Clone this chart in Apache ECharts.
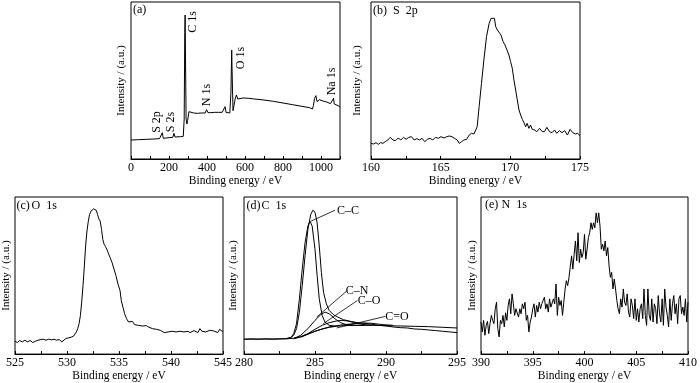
<!DOCTYPE html>
<html><head><meta charset="utf-8">
<script src="https://cdn.jsdelivr.net/npm/echarts@6/dist/echarts.min.js"></script>
<style>html,body{margin:0;padding:0;background:#fff}#c{width:700px;height:383px}</style>
</head><body><div id="c"></div>
<script>
const FONT = '"Liberation Serif","Times New Roman",serif';

// (a) survey spectrum
const aEnergy = [0,40,80,120,150,160,165,170,200,220,226,232,260,275,280,283,285,287,290,294,298,305,312,330,350,370,390,398,405,420,440,460,480,490,495,500,510,520,526,530,533,537,542,548,555,562,570,590,620,650,700,750,800,850,900,940,955,960,966,973,979,985,992,1000,1010,1020,1030,1040,1050,1060,1066,1070,1080,1090,1100];
const aIntensity = [57,58,59,60,61,62,79,62,64,65,77,66,67,68,120,380,432,300,120,105,115,142,140,138,137,138,138,148,139,139,140,140,140,141,157,140,140,138,200,327,240,145,160,180,192,180,184,183,182,180,177,173,168,163,158,154,150,160,182,190,172,168,178,176,174,176,171,169,166,165,182,165,161,160,156];

// (b) S 2p
const bEnergy = [160.00,160.19,160.36,160.52,160.69,160.86,161.02,161.21,161.38,161.57,161.76,161.95,162.14,162.33,162.52,162.71,162.90,163.10,163.29,163.48,163.67,163.86,164.05,164.24,164.43,164.62,164.83,165.02,165.24,165.43,165.62,165.81,166.00,166.19,166.33,166.50,166.67,166.86,167.05,167.21,167.38,167.52,167.62,167.76,167.93,168.10,168.29,168.48,168.62,168.76,168.86,168.95,169.07,169.19,169.33,169.48,169.62,169.76,169.90,170.02,170.14,170.26,170.38,170.50,170.62,170.74,170.86,170.98,171.10,171.21,171.33,171.45,171.57,171.74,171.90,172.10,172.29,172.45,172.62,172.81,173.00,173.17,173.33,173.52,173.71,173.90,174.10,174.29,174.48,174.67,174.83,175.00];
const bIntensity = [47,45,49,44,49,47,52,57,65,57,55,63,57,65,59,65,67,57,61,57,62,52,59,62,57,65,62,67,63,67,69,67,62,57,47,52,57,59,72,77,75,87,97,157,227,297,367,407,422,417,422,397,387,382,372,352,342,327,312,292,272,237,207,177,147,132,119,109,97,107,92,102,89,87,82,92,82,82,95,82,79,87,77,85,79,85,72,89,79,75,77,70];

// (c) O 1s
const cEnergy = [525.00,525.22,525.44,525.70,525.95,526.21,526.46,526.71,526.97,527.22,527.48,527.73,527.98,528.24,528.49,528.75,529.00,529.25,529.51,529.70,529.89,530.14,530.40,530.65,530.78,530.90,531.03,531.16,531.29,531.41,531.54,531.67,531.79,531.92,532.05,532.17,532.30,532.43,532.56,532.68,532.81,532.94,533.06,533.19,533.32,533.44,533.57,533.70,533.83,533.95,534.14,534.33,534.52,534.71,534.90,535.10,535.22,535.38,535.54,535.73,535.92,536.11,536.30,536.49,536.68,536.87,537.06,537.25,537.44,537.63,537.83,538.02,538.21,538.40,538.59,538.78,538.97,539.16,539.35,539.54,539.73,539.92,540.11,540.30,540.49,540.68,540.87,541.06,541.25,541.44,541.63,541.83,542.02,542.21,542.40,542.59,542.78,542.97,543.16,543.35,543.54,543.73,543.92,544.11,544.30,544.49,544.68,544.87,545.00];
const cIntensity = [39,35,41,37,42,37,41,35,39,42,44,45,42,45,43,45,42,44,37,42,47,49,51,55,59,67,77,92,117,157,207,267,327,372,402,422,432,435,439,442,435,422,409,402,377,347,332,325,317,307,292,277,257,237,212,192,162,142,122,107,97,92,99,89,95,87,91,85,89,86,82,85,77,79,75,77,72,69,65,62,67,61,69,65,67,63,69,65,67,63,69,65,67,71,67,65,77,69,72,67,69,72,67,70,67,65,75,69,67];

// (d) C 1s: measured envelope, fitted components and background
const dEnergy = [280.0,280.5,281.0,281.5,282.0,282.5,283.0,283.3,283.5,283.7,283.9,284.1,284.3,284.5,284.7,284.85,285.0,285.15,285.3,285.45,285.6,285.8,286.0,286.3,286.6,287.0,287.5,288.0,288.5,289.0,289.5,290.0,290.5,291.0,291.5,292.0,292.5,293.0,293.5,294.0,294.5,295.0];
const dIntensity = [45,46,45,46,45,46,47,50,57,77,127,207,297,377,422,435,429,397,327,247,187,152,132,119,112,104,99,95,93,90,87,85,82,80,79,76,75,73,71,69,67,65];
const ccEnergy = [283.0,283.3,283.5,283.7,283.9,284.1,284.3,284.5,284.65,284.8,285.0,285.15,285.3,285.5,285.7,286.0,286.5];
const ccIntensity = [47,50,62,92,167,257,337,387,402,387,317,237,167,117,97,87,84];
const cnEnergy = [283.5,284.0,284.5,285.0,285.4,285.7,286.0,286.4,286.8,287.2,287.8,288.5];
const cnIntensity = [47,57,77,102,119,127,122,107,95,89,87,87];
const coEnergy = [283.5,284.0,284.5,285.0,285.5,286.0,286.5,286.9,287.3,287.8,288.3,289.0];
const coIntensity = [46,52,62,75,87,95,100,102,100,95,90,87];
const c2oEnergy = [284.0,285.0,286.0,287.0,288.0,288.5,289.0,289.8,290.5];
const c2oIntensity = [51,69,82,89,93,94,93,89,87];
const bgEnergy = [280.0,283.0,283.5,284.0,284.5,285.0,285.5,286.0,286.5,287.0,288.0,289.0,290.0,291.0,292.0,293.0,294.0,295.0];
const bgIntensity = [45,46,48,53,61,69,76,81,84,86,87,87,86,85,84,83,81,79];

// (e) N 1s
const eEnergy = [390,390.125,390.25,390.375,390.5,390.625,390.75,390.875,391,391.125,391.25,391.375,391.5,391.625,391.75,391.875,392,392.125,392.25,392.375,392.5,392.625,392.75,392.875,393,393.125,393.25,393.375,393.5,393.625,393.75,393.875,394,394.125,394.25,394.375,394.5,394.625,394.75,394.875,395,395.125,395.25,395.375,395.5,395.625,395.75,395.875,396,396.125,396.25,396.375,396.5,396.625,396.75,396.875,397,397.125,397.25,397.375,397.5,397.625,397.75,397.875,398,398.125,398.25,398.375,398.5,398.625,398.75,398.875,399,399.125,399.25,399.375,399.5,399.625,399.75,399.875,400,400.125,400.25,400.375,400.5,400.625,400.75,400.875,401,401.125,401.25,401.375,401.5,401.625,401.75,401.875,402,402.125,402.25,402.375,402.5,402.625,402.75,402.875,403,403.125,403.25,403.375,403.5,403.625,403.75,403.875,404,404.125,404.25,404.375,404.5,404.625,404.75,404.875,405,405.125,405.25,405.375,405.5,405.625,405.75,405.875,406,406.125,406.25,406.375,406.5,406.625,406.75,406.875,407,407.125,407.25,407.375,407.5,407.625,407.75,407.875,408,408.125,408.25,408.375,408.5,408.625,408.75,408.875,409,409.125,409.25,409.375,409.5,409.625,409.75,409.875,410];
const eIntensity = [97,67,102,57,87,99,62,92,117,102,92,137,157,77,52,102,92,117,82,125,102,147,167,122,182,152,117,137,142,112,137,122,152,137,157,102,117,67,97,112,137,152,112,147,127,157,137,152,162,172,137,152,127,167,142,137,167,152,212,117,172,147,162,117,157,197,222,207,232,232,297,257,302,342,282,367,277,317,292,307,362,287,317,352,367,397,377,397,382,427,397,427,387,317,332,312,342,297,322,267,232,247,197,227,197,162,137,122,167,142,197,157,147,182,127,112,167,147,107,167,102,137,97,137,152,107,197,117,87,197,117,102,167,97,152,137,92,177,122,97,167,87,197,142,117,82,167,102,152,177,122,152,92,167,177,122,142,117,167,97,157];

// tick settings
const aTicks = {min:0, max:1100, step:100, label:200};
const bTicks = {min:160, max:175, step:2.5, label:5};
const cTicks = {min:525, max:545, step:2.5, label:5};
const dTicks = {min:280, max:295, step:2.5, label:5};
const eTicks = {min:390, max:410, step:2.5, label:5};

// annotations
const surveyLabels = [
  {text:'S 2p', x:156.5, y:122},
  {text:'S 2s', x:171, y:122},
  {text:'C 1s', x:192.5, y:22},
  {text:'N 1s', x:206.7, y:95},
  {text:'O 1s', x:241, y:58},
  {text:'Na 1s', x:331.5, y:81.5}
];
const dLabels = [
  {text:'C–C', at:[287.32,434], from:[286.41,435], to:[284.72,402]},
  {text:'C–N', at:[287.96,191], from:[287.27,192], to:[285.12,112]},
  {text:'C–O', at:[288.80,161], from:[287.98,162], to:[285.58,92]},
  {text:'C=O', at:[290.77,113], from:[289.95,114], to:[286.53,79]}
];

const grids = [
  {left:131, top:2, width:209, height:157},
  {left:371, top:2, width:209, height:157},
  {left:13, top:197, width:210, height:159},
  {left:244, top:197, width:213, height:159},
  {left:481, top:197, width:211, height:159}
].map(g => Object.assign({show:true, borderColor:'#000', borderWidth:1, backgroundColor:'transparent'}, g));

function xAx(gi, t){
  return {type:'value', gridIndex:gi, min:t.min, max:t.max, interval:t.step,
    axisLine:{show:true, lineStyle:{color:'#000', width:1}},
    axisTick:{show:true, inside:true, length:3, lineStyle:{color:'#000', width:1}},
    axisLabel:{color:'#000', fontSize:12, fontFamily:FONT, margin:3,
      formatter: v => { const r = v / t.label; return Math.abs(r - Math.round(r)) < 1e-6 ? String(v) : ''; }},
    splitLine:{show:false},
    name:'Binding energy / eV', nameLocation:'middle', nameGap:14,
    nameTextStyle:{color:'#000', fontSize:11.5, fontFamily:FONT}};
}
function yAx(gi, max, gap){
  return {type:'value', gridIndex:gi, min:0, max:max,
    axisLine:{show:false}, axisTick:{show:false}, axisLabel:{show:false}, splitLine:{show:false},
    name:'Intensity / (a.u.)', nameLocation:'middle', nameGap:gap, nameRotate:90,
    nameTextStyle:{color:'#000', fontSize:11, fontFamily:FONT}};
}
function zip(a, b){ return a.map((v, i) => [v, b[i]]); }
function line(gi, xs, ys){
  return {type:'line', xAxisIndex:gi, yAxisIndex:gi, data:zip(xs, ys), showSymbol:false, symbol:'none',
    silent:true, lineStyle:{color:'#000', width:1}, clip:true};
}

const chart = echarts.init(document.getElementById('c'), null, {renderer:'canvas'});
chart.setOption({
  animation:false,
  backgroundColor:'#fff',
  grid:grids,
  xAxis:[xAx(0,aTicks), xAx(1,bTicks), xAx(2,cTicks), xAx(3,dTicks), xAx(4,eTicks)],
  yAxis:[yAx(0,471,4), yAx(1,471,8), yAx(2,475,3), yAx(3,475,5), yAx(4,475,3)],
  series:[
    line(0, aEnergy, aIntensity),
    line(1, bEnergy, bIntensity),
    line(2, cEnergy, cIntensity),
    line(3, dEnergy, dIntensity),
    line(3, ccEnergy, ccIntensity),
    line(3, cnEnergy, cnIntensity),
    line(3, coEnergy, coIntensity),
    line(3, c2oEnergy, c2oIntensity),
    line(3, bgEnergy, bgIntensity),
    line(4, eEnergy, eIntensity)
  ]
});

function txt(text, x, y, opts){
  opts = opts || {};
  return {type:'text', x:x, y:y, rotation:opts.rotation || 0, silent:true, z:100,
    style:{text:text, fill:'#000', font:(opts.size||12)+'px ' + FONT,
      align:opts.align||'left', textAlign:opts.align||'left',
      verticalAlign:'middle', textVerticalAlign:'middle'}};
}
const graphics = [
  txt('(a)', 133, 10),
  txt('(b)', 373, 11), txt('S  2p', 393, 11),
  txt('(c)', 16.5, 206), txt('O  1s', 31.5, 206),
  txt('(d)', 246.5, 205.5), txt('C  1s', 261.5, 205.5),
  txt('(e)', 485, 205), txt('N  1s', 501.5, 205)
];
surveyLabels.forEach(l => graphics.push(txt(l.text, l.x, l.y, {rotation:Math.PI/2, align:'center'})));
dLabels.forEach(l => {
  const p = chart.convertToPixel({gridIndex:3}, l.at);
  const a = chart.convertToPixel({gridIndex:3}, l.from);
  const b = chart.convertToPixel({gridIndex:3}, l.to);
  graphics.push(txt(l.text, p[0], p[1], {align:'center'}));
  graphics.push({type:'line', silent:true, z:100, shape:{x1:a[0], y1:a[1], x2:b[0], y2:b[1]},
    style:{stroke:'#000', lineWidth:0.8}});
});
chart.setOption({graphic:graphics});
</script>
</body></html>
